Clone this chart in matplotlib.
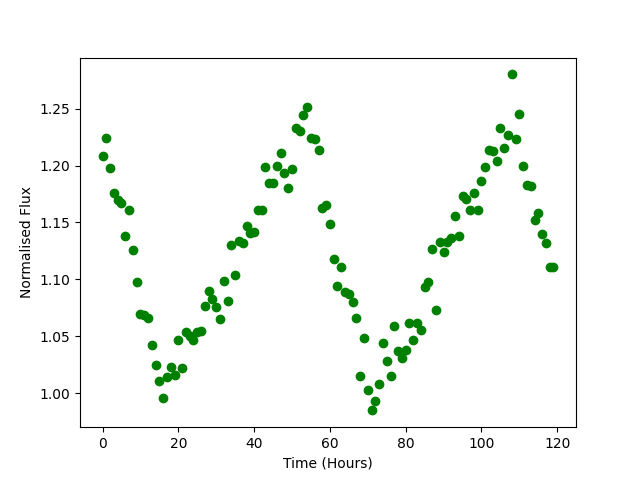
import numpy as np
import matplotlib.pyplot as plt

# observation time, one reading per hour
hours = np.arange(0, 120)

flux = [1.208, 1.224, 1.198, 1.176, 1.170, 1.167, 1.138, 1.161, 1.126, 1.098,
        1.070, 1.069, 1.066, 1.042, 1.025, 1.011, 0.996, 1.014, 1.023, 1.016,
        1.047, 1.022, 1.054, 1.050, 1.047, 1.054, 1.055, 1.077, 1.090, 1.083,
        1.076, 1.065, 1.099, 1.081, 1.130, 1.104, 1.134, 1.132, 1.147, 1.141,
        1.142, 1.161, 1.161, 1.199, 1.185, 1.185, 1.200, 1.211, 1.193, 1.180,
        1.197, 1.233, 1.230, 1.244, 1.251, 1.224, 1.223, 1.214, 1.163, 1.165,
        1.149, 1.118, 1.094, 1.111, 1.089, 1.087, 1.080, 1.066, 1.015, 1.049,
        1.003, 0.985, 0.993, 1.008, 1.044, 1.028, 1.015, 1.059, 1.037, 1.031,
        1.038, 1.062, 1.047, 1.062, 1.056, 1.093, 1.098, 1.127, 1.073, 1.133,
        1.124, 1.133, 1.136, 1.156, 1.138, 1.173, 1.171, 1.161, 1.176, 1.161,
        1.186, 1.199, 1.214, 1.213, 1.204, 1.233, 1.215, 1.227, 1.280, 1.223,
        1.245, 1.200, 1.183, 1.182, 1.152, 1.158, 1.140, 1.132, 1.111, 1.111]

fig = plt.figure(figsize=(6.4, 4.8), dpi=100)
plt.plot(hours, flux, 'go')
plt.xlabel('Time (Hours)')
plt.ylabel('Normalised Flux')

plt.savefig('out.png')
plt.close()
